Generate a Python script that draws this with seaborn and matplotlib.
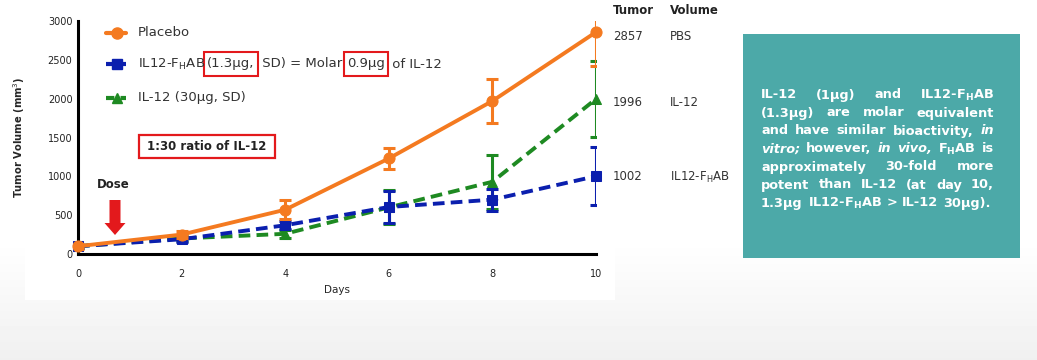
import numpy as np
import pandas as pd
import matplotlib
matplotlib.use('Agg')
import matplotlib.pyplot as plt
import seaborn as sns
from matplotlib.patches import Rectangle, FancyArrow

# data
days = [0, 2, 4, 6, 8, 10]
placebo = [100, 250, 570, 1230, 1970, 2857]
placebo_sd = [30, 40, 120, 135, 280, 430]
fhab = [100, 190, 370, 605, 700, 1002]
fhab_sd = [20, 30, 50, 200, 140, 370]
il12 = [100, 200, 260, 600, 930, 1996]
il12_sd = [20, 30, 50, 220, 350, 490]

end_head = ['Tumor', 'Volume']
end_values = ['2857', '1996', '1002']
end_names = ['PBS', 'IL-12', 'IL12-F$_\\mathregular{H}$AB']

ORANGE = '#f47a20'
BLUE = '#0b1fae'
GREEN = '#1e8a22'
RED = '#e3191c'
TEAL = '#4ca9a8'

sns.set_style('white')
plt.rcParams['font.family'] = ['DejaVu Sans']

W, H = 1037, 360
fig = plt.figure(figsize=(W / 100, H / 100), dpi=100)

# background: light gray fade at the bottom, white behind the chart
bg = fig.add_axes([0, 0, 1, 1], zorder=-10)
grad = np.ones((H, 1))
ramp = np.clip((np.arange(H) - 240) / (H - 240), 0, 1)
grad[:, 0] = 1 - 0.06 * ramp
bg.imshow(grad, cmap='gray', vmin=0, vmax=1, aspect='auto', extent=[0, W, H, 0])
bg.add_patch(Rectangle((25, 0), 590, 300, color='white', lw=0))
bg.set_xlim(0, W)
bg.set_ylim(H, 0)
bg.axis('off')

ax = fig.add_axes([78 / W, 1 - 254 / H, (596 - 78) / W, (254 - 21) / H])
ax.set_facecolor('none')

df = pd.DataFrame({'day': days * 3,
                   'vol': placebo + fhab + il12,
                   'sd': placebo_sd + fhab_sd + il12_sd,
                   'grp': ['Placebo'] * 6 + ['FHAB'] * 6 + ['IL12'] * 6})

styles = {
    'Placebo': dict(color=ORANGE, marker='o', ms=8, ls='-', z=5),
    'FHAB': dict(color=BLUE, marker='s', ms=6.5, ls=(0, (3, 1.6)), z=4),
    'IL12': dict(color=GREEN, marker='^', ms=7, ls=(0, (3, 1.6)), z=3),
}
for grp in ['IL12', 'FHAB', 'Placebo']:
    st = styles[grp]
    sub = df[df.grp == grp]
    ax.errorbar(sub.day, sub.vol, yerr=sub.sd, fmt='none', ecolor=st['color'],
                elinewidth=2.2, capsize=4.5, capthick=2.2, zorder=st['z'])
    sns.lineplot(data=sub, x='day', y='vol', ax=ax, color=st['color'], lw=2.8,
                 linestyle=st['ls'], marker=st['marker'], markersize=st['ms'],
                 markeredgecolor=st['color'], zorder=st['z'] + 0.5, clip_on=False)

ax.set_xlim(0, 10)
ax.set_ylim(0, 3000)
ax.set_xticks(days)
ax.set_yticks(range(0, 3001, 500))
ax.tick_params(axis='both', labelsize=7, colors='#222222', length=5, width=2,
               direction='out', pad=6)
ax.tick_params(axis='y', length=0, pad=4)
for s in ['top', 'right']:
    ax.spines[s].set_visible(False)
for s in ['left', 'bottom']:
    ax.spines[s].set_linewidth(2.2)
    ax.spines[s].set_color('black')
ax.set_xlabel('Days', fontsize=7.5, labelpad=4)
ax.set_ylabel('Tumor Volume (mm$^3$)', fontsize=7.2, fontweight='bold', labelpad=15)

# overlay in pixel coordinates for annotations
ov = fig.add_axes([0, 0, 1, 1], zorder=10)
ov.set_xlim(0, W)
ov.set_ylim(H, 0)
ov.axis('off')
renderer = fig.canvas.get_renderer()

def width(t):
    return t.get_window_extent(renderer).width

# legend
lx, fs = 106, 9.5
ov.plot([lx, lx + 20], [33, 33], color=ORANGE, lw=3)
ov.plot([lx + 11], [33], marker='o', ms=8, color=ORANGE)
ov.text(138, 33, 'Placebo', fontsize=fs, va='center', color='#333333')
ov.plot([lx, lx + 20], [64, 64], color=BLUE, lw=3, ls=(0, (2, 1.5)))
ov.plot([lx + 11], [64], marker='s', ms=6.5, color=BLUE)
ov.plot([lx, lx + 20], [98, 98], color=GREEN, lw=3, ls=(0, (2, 1.5)))
ov.plot([lx + 11], [98], marker='^', ms=7, color=GREEN)
ov.text(138, 98, 'IL-12 (30μg, SD)', fontsize=fs, va='center', color='#333333')

pieces = ['IL12-F$_\\mathregular{H}$AB ', '(1.3μg,', ' SD) = Molar ', '0.9μg', ' of IL-12']
x = 138
for i, p in enumerate(pieces):
    t = ov.text(x, 64, p, fontsize=fs, va='center', color='#333333')
    w = width(t)
    if i in (1, 3):
        ov.add_patch(Rectangle((x - 3, 52), w + 6, 24, fill=False, ec=RED, lw=1.5))
        w += 3
    elif i in (0, 2):
        w += 1
    x += w

# ratio box
ov.text(207, 146, '1:30 ratio of IL-12', fontsize=8.5, fontweight='bold',
        ha='center', va='center', color='#222222')
ov.add_patch(Rectangle((139, 135), 136, 23, fill=False, ec=RED, lw=1.6))

# dose arrow
ov.text(113, 184, 'Dose', fontsize=8.5, fontweight='bold', ha='center', va='center',
        color='#222222')
ov.add_patch(FancyArrow(115, 200, 0, 35, width=11, head_width=21, head_length=12,
                        length_includes_head=True, color=RED, lw=0))

# end values table
ov.text(613, 10, end_head[0], fontsize=8.5, fontweight='bold', va='center', color='#222222')
ov.text(670, 10, end_head[1], fontsize=8.5, fontweight='bold', va='center', color='#222222')
for v, n, yy in zip(end_values, end_names, [37, 102, 177]):
    ov.text(613, yy, v, fontsize=8.5, va='center', color='#333333')
    ov.text(670, yy, n, fontsize=8.5, va='center', color='#333333')

# teal text box with justified text
ov.add_patch(Rectangle((743, 34), 277, 224, color=TEAL, lw=0))
box_lines = [
    [('IL-12', 'n'), ('(1μg)', 'n'), ('and', 'n'), ('IL12-F$_\\mathbf{H}$AB', 'n')],
    [('(1.3μg)', 'n'), ('are', 'n'), ('molar', 'n'), ('equivalent', 'n')],
    [('and', 'n'), ('have', 'n'), ('similar', 'n'), ('bioactivity,', 'n'), ('in', 'i')],
    [('vitro;', 'i'), ('however,', 'n'), ('in', 'i'), ('vivo,', 'i'), ('F$_\\mathbf{H}$AB', 'n'), ('is', 'n')],
    [('approximately', 'n'), ('30-fold', 'n'), ('more', 'n')],
    [('potent', 'n'), ('than', 'n'), ('IL-12', 'n'), ('(at', 'n'), ('day', 'n'), ('10,', 'n')],
    [('1.3μg', 'n'), ('IL12-F$_\\mathbf{H}$AB', 'n'), ('>', 'n'), ('IL-12', 'n'), ('30μg).', 'n')],
]
bx0, bx1, by0, bdy = 761, 994, 95, 18
for i, words in enumerate(box_lines):
    yy = by0 + i * bdy
    texts = []
    for w, st in words:
        texts.append(ov.text(0, yy, w, fontsize=9.3, fontweight='bold', color='white',
                             va='center', style='italic' if st == 'i' else 'normal'))
    ws = [width(t) for t in texts]
    if i < len(box_lines) - 1:
        gap = (bx1 - bx0 - sum(ws)) / (len(ws) - 1)
    else:
        gap = 5
    xx = bx0
    for t, w in zip(texts, ws):
        t.set_x(xx)
        xx += w + gap

fig.savefig('out.png', dpi=100)
